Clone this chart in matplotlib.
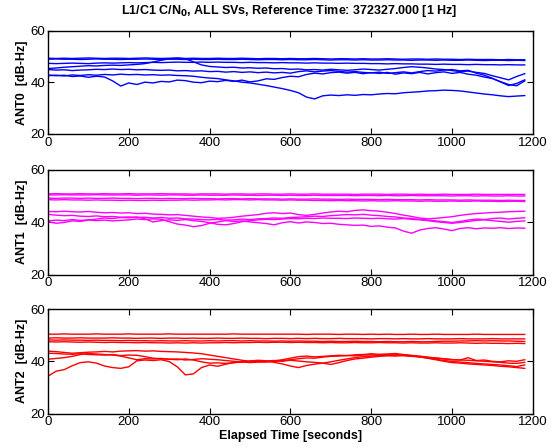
import numpy as np
import matplotlib
matplotlib.use("Agg")
import matplotlib.pyplot as plt

plt.rcParams['font.family'] = ['Liberation Sans', 'DejaVu Sans']

# sample times [s], one value every 20 s
t = np.arange(0, 1200, 20)

# ANT0 (blue) C/N0 per SV [dB-Hz]
ant0 = [
    [49.4,49.3,49.4,49.3,49.4,49.5,49.4,49.3,49.4,49.4, 49.3,49.4,49.5,49.4,49.3,49.4,49.4,49.3,49.4,49.3,
     49.3,49.4,49.3,49.3,49.4,49.3,49.2,49.3,49.3,49.2, 49.3,49.2,49.2,49.3,49.2,49.1,49.2,49.2,49.1,49.2,
     49.1,49.1,49.2,49.1,49.0,49.1,49.1,49.0,49.1,49.0, 49.0,48.9,49.0,48.9,48.9,48.9,48.8,48.9,48.8,48.8],
    [49.0,49.1,49.0,49.0,48.9,49.0,49.1,49.0,49.0,48.9, 49.0,49.0,49.1,49.0,48.9,49.0,49.0,48.9,49.0,48.9,
     48.9,49.0,48.9,48.9,49.0,48.9,48.8,48.9,48.9,48.8, 48.9,48.8,48.8,48.9,48.8,48.7,48.8,48.8,48.7,48.8,
     48.7,48.7,48.8,48.7,48.7,48.6,48.7,48.7,48.6,48.7, 48.6,48.6,48.7,48.6,48.5,48.6,48.6,48.5,48.6,48.5],
    [47.4,47.3,47.4,47.5,47.4,47.3,47.5,47.6,47.5,47.6, 47.7,47.6,47.7,47.8,47.7,47.8,47.9,47.8,47.8,47.9,
     47.8,47.9,47.8,47.8,47.7,47.8,47.7,47.7,47.6,47.7, 47.6,47.6,47.5,47.6,47.5,47.5,47.4,47.5,47.4,47.4,
     47.3,47.3,47.2,47.3,47.2,47.2,47.1,47.1,47.0,47.1, 47.0,47.0,46.9,47.0,46.9,46.9,46.8,46.9,46.8,46.8],
    [45.4,45.6,45.9,46.1,46.3,46.5,46.4,46.6,46.7,46.6, 46.8,47.0,47.3,47.9,48.6,49.2,49.5,49.2,48.0,46.8,
     46.2,46.0,45.8,45.9,45.6,45.7,45.5,45.6,45.3,45.4, 45.1,45.2,44.9,45.0,44.8,45.1,44.9,44.7,44.9,45.2,
     45.0,44.8,45.1,45.4,45.8,46.1,45.9,45.6,45.2,45.0, 44.6,44.2,44.4,43.9,43.5,42.6,41.8,41.0,42.3,43.4],
    [45.0,44.8,44.9,44.6,44.8,44.9,45.1,45.0,45.2,45.0, 45.1,44.9,45.0,44.8,44.7,44.8,44.5,44.6,44.4,44.5,
     44.2,44.3,44.0,44.2,43.9,44.1,43.8,44.0,43.7,43.9, 43.6,44.2,44.5,44.1,44.4,44.6,44.3,44.0,44.2,43.9,
     43.7,44.0,43.5,43.8,44.1,43.7,44.2,44.6,44.4,44.8, 45.0,44.5,44.7,43.6,42.8,41.6,40.2,38.8,39.6,41.0],
    [42.9,42.6,42.8,42.3,42.5,42.0,42.4,42.1,40.6,38.6, 39.8,39.2,40.1,39.8,40.4,40.2,40.9,40.7,40.1,39.9,
     40.5,40.3,40.8,40.4,40.9,40.2,40.6,41.4,41.2,41.9, 42.4,42.2,43.1,43.6,43.3,43.8,44.0,43.6,43.9,43.4,
     43.8,43.5,43.9,43.2,43.7,43.4,43.9,43.3,43.8,44.1, 43.5,43.9,43.2,42.8,42.1,41.5,40.3,39.2,38.7,40.6],
    [42.6,42.8,42.5,42.9,42.7,43.0,42.8,43.1,42.9,43.2, 43.0,43.1,42.9,43.0,42.8,42.9,42.7,42.6,42.4,42.0,
     41.7,41.5,41.0,40.6,40.1,39.8,39.3,38.8,38.2,37.6, 36.9,36.0,34.3,33.6,34.8,35.1,34.9,35.2,35.0,35.3,
     35.2,35.5,35.7,35.6,36.0,36.2,36.4,36.7,36.8,37.0, 36.9,36.7,36.3,35.9,35.5,35.2,34.8,34.5,34.7,34.9],
]

# ANT1 (magenta)
ant1 = [
    [50.8,50.9,50.8,50.8,50.9,50.8,50.8,50.9,50.8,50.8, 50.9,50.8,50.8,50.8,50.9,50.8,50.8,50.8,50.7,50.8,
     50.8,50.8,50.7,50.8,50.8,50.7,50.8,50.8,50.7,50.7, 50.8,50.7,50.7,50.8,50.7,50.7,50.7,50.7,50.6,50.7,
     50.7,50.7,50.6,50.7,50.7,50.6,50.7,50.6,50.6,50.7, 50.6,50.6,50.6,50.7,50.6,50.6,50.6,50.6,50.6,50.6],
    [50.4,50.4,50.5,50.4,50.4,50.4,50.5,50.4,50.4,50.4, 50.4,50.3,50.4,50.4,50.3,50.4,50.4,50.3,50.3,50.4,
     50.3,50.3,50.3,50.4,50.3,50.3,50.2,50.3,50.3,50.2, 50.3,50.2,50.2,50.3,50.2,50.2,50.2,50.2,50.1,50.2,
     50.2,50.1,50.2,50.1,50.1,50.2,50.1,50.1,50.1,50.1, 50.0,50.1,50.1,50.0,50.1,50.0,50.0,50.1,50.0,50.0],
    [49.2,49.1,49.2,49.2,49.1,49.2,49.1,49.1,49.2,49.1, 49.1,49.0,49.1,49.1,49.0,49.1,49.0,49.0,49.1,49.0,
     49.0,48.9,49.0,49.0,48.9,49.0,48.9,48.9,48.9,48.8, 48.9,48.8,48.8,48.9,48.8,48.8,48.7,48.8,48.7,48.7,
     48.7,48.6,48.7,48.6,48.6,48.6,48.5,48.6,48.5,48.5, 48.5,48.4,48.5,48.4,48.4,48.4,48.3,48.4,48.3,48.3],
    [48.6,48.5,48.6,48.5,48.5,48.4,48.5,48.4,48.4,48.3, 48.4,48.3,48.3,48.4,48.3,48.4,48.4,48.5,48.4,48.5,
     48.5,48.6,48.5,48.6,48.6,48.5,48.6,48.5,48.5,48.4, 48.5,48.4,48.4,48.3,48.3,48.2,48.3,48.2,48.2,48.1,
     48.2,48.1,48.1,48.2,48.1,48.1,48.0,48.1,48.0,48.0, 48.1,48.0,48.0,48.1,48.0,48.0,47.9,48.0,48.0,47.9],
    [44.1,44.0,44.2,44.0,43.9,44.1,43.8,43.6,43.7,43.5, 43.6,43.3,43.4,43.1,43.0,42.8,42.9,42.6,42.3,42.0,
     41.8,41.5,41.6,41.9,42.3,42.6,42.9,43.4,43.6,43.3, 43.5,42.9,42.6,43.0,43.5,43.9,44.2,44.0,44.5,44.7,
     44.4,44.2,43.8,43.3,42.7,42.2,41.6,41.3,41.5,41.8, 42.1,42.6,43.0,43.3,43.5,43.7,43.8,44.0,44.1,44.2],
    [43.0,42.7,42.5,42.6,42.3,42.2,42.4,42.1,42.2,41.9, 42.0,41.8,41.9,41.6,41.8,41.5,41.6,41.3,41.2,41.0,
     40.9,41.1,40.8,40.9,41.2,41.0,41.3,41.4,41.6,41.5, 41.8,41.9,42.1,42.3,42.2,42.5,42.7,42.9,42.8,43.0,
     42.7,42.5,42.2,42.0,41.6,41.4,41.1,40.8,40.5,40.2, 39.9,40.3,40.8,41.2,41.0,41.4,41.6,41.2,41.5,41.7],
    [40.2,39.6,39.9,40.5,40.3,40.8,41.2,41.6,41.4,41.8, 41.7,42.0,41.3,40.1,40.6,40.9,40.7,41.0,40.6,40.3,
     39.8,39.2,39.0,39.5,40.2,40.6,40.9,41.1,41.0,41.2, 41.4,41.3,41.5,41.4,41.6,41.5,41.5,41.4,41.6,41.5,
     41.4,41.5,41.3,41.2,41.4,41.1,40.9,40.6,40.2,39.9, 39.6,39.9,40.3,40.7,40.9,40.6,40.3,40.0,40.3,40.5],
    [40.5,40.8,40.6,41.0,40.7,40.9,40.6,40.8,40.5,40.7, 40.9,41.2,41.0,41.3,41.1,40.2,39.3,38.9,38.3,38.7,
     39.6,40.1,40.6,40.3,40.5,40.1,39.8,39.5,39.0,39.8, 40.2,39.7,40.1,39.9,39.5,39.6,39.2,39.0,38.8,38.9,
     38.4,38.6,38.1,37.8,36.6,35.8,37.0,37.6,37.9,37.4, 36.8,37.6,37.9,37.5,37.8,37.7,37.9,37.6,37.8,37.7],
]

# ANT2 (red)
ant2 = [
    [50.4,50.4,50.5,50.4,50.4,50.4,50.5,50.4,50.4,50.4, 50.5,50.4,50.4,50.4,50.4,50.5,50.4,50.4,50.4,50.4,
     50.4,50.4,50.4,50.5,50.4,50.4,50.4,50.4,50.4,50.4, 50.4,50.4,50.3,50.4,50.4,50.4,50.3,50.4,50.4,50.3,
     50.4,50.3,50.4,50.3,50.3,50.4,50.3,50.3,50.4,50.3, 50.3,50.3,50.3,50.4,50.3,50.3,50.3,50.3,50.3,50.3],
    [48.9,49.0,48.9,48.9,49.0,48.9,48.9,48.9,49.0,48.9, 48.9,48.8,48.9,48.9,48.8,48.9,48.9,48.8,48.9,48.8,
     48.8,48.9,48.8,48.8,48.9,48.8,48.8,48.7,48.8,48.8, 48.7,48.8,48.7,48.8,48.7,48.7,48.8,48.7,48.7,48.7,
     48.6,48.7,48.7,48.6,48.7,48.6,48.6,48.7,48.6,48.6, 48.6,48.7,48.6,48.6,48.6,48.7,48.6,48.6,48.6,48.6],
    [48.2,48.1,48.2,48.1,48.1,48.0,48.1,48.0,48.0,47.9, 48.0,47.9,47.9,47.8,47.9,47.8,47.8,47.9,47.8,47.8,
     47.9,47.8,47.9,47.9,47.8,47.9,47.8,47.8,47.7,47.8, 47.7,47.8,47.7,47.7,47.6,47.7,47.6,47.6,47.7,47.6,
     47.6,47.5,47.6,47.5,47.5,47.6,47.5,47.5,47.6,47.7, 47.7,47.8,47.8,47.9,47.8,47.9,47.8,47.8,47.7,47.6],
    [47.5,47.4,47.5,47.4,47.3,47.4,47.3,47.2,47.3,47.2, 47.2,47.1,47.2,47.1,47.1,47.0,47.1,47.0,47.1,47.0,
     47.1,47.1,47.2,47.1,47.2,47.2,47.3,47.2,47.3,47.3, 47.2,47.3,47.2,47.2,47.1,47.2,47.1,47.1,47.2,47.1,
     47.1,47.2,47.1,47.1,47.0,47.1,47.0,47.0,47.1,47.0, 47.0,47.1,47.0,46.9,47.0,46.9,46.9,46.8,46.9,46.8],
    [43.9,43.7,43.4,43.1,43.3,43.5,43.6,43.8,43.6,43.9, 44.0,44.1,43.9,44.0,43.8,43.7,43.6,43.4,43.2,42.9,
     42.4,41.9,41.4,40.9,40.4,40.0,39.8,39.7,39.9,40.3, 40.6,41.0,41.3,41.2,41.6,41.9,42.0,42.2,42.1,42.4,
     42.5,42.3,42.6,42.4,42.2,42.0,41.8,41.5,41.3,41.0, 40.7,40.5,40.4,40.2,40.0,39.8,39.6,39.3,39.2,39.6],
    [43.1,43.0,42.8,42.7,42.9,42.6,42.5,42.4,42.6,42.2, 42.4,42.3,41.8,41.2,41.0,40.8,40.9,40.5,40.7,41.0,
     40.8,40.6,40.3,40.0,39.8,39.5,39.7,39.9,40.2,40.6, 41.2,41.8,42.0,41.7,41.9,42.1,42.3,42.2,42.5,42.6,
     42.9,42.7,42.8,43.0,42.6,42.3,42.0,41.6,41.2,40.9, 40.6,40.5,41.4,40.3,40.5,40.0,39.8,40.2,40.0,40.6],
    [40.8,41.1,41.4,41.9,42.6,43.0,42.8,42.6,42.4,42.0, 41.3,40.6,41.0,40.9,41.1,40.8,40.6,40.9,40.5,39.8,
     39.3,39.4,39.2,39.5,39.7,40.0,40.2,40.1,40.3,40.0, 40.4,40.1,39.8,39.6,39.3,38.8,39.5,40.3,40.9,41.2,
     41.6,41.9,42.1,42.0,42.2,41.9,41.7,41.2,40.8,40.3, 40.0,39.7,39.5,39.2,39.0,38.8,38.6,38.3,38.0,38.6],
    [34.3,36.2,36.8,38.3,39.5,39.8,39.3,38.2,37.6,37.3, 37.9,40.2,40.5,40.3,40.6,39.9,37.9,34.8,35.2,37.6,
     38.6,38.1,38.9,39.5,39.8,40.1,40.4,40.2,39.6,39.0, 38.2,37.6,38.4,38.9,39.3,39.8,40.4,40.9,41.4,41.8,
     42.0,42.2,42.3,42.5,42.4,42.1,41.7,41.2,40.6,40.0, 39.5,39.3,39.0,38.8,38.6,38.4,38.1,37.9,37.6,37.3],
]

ylabels = ["ANT0  [dB-Hz]", "ANT1  [dB-Hz]", "ANT2  [dB-Hz]"]
colors = ["#0000ff", "#ff00ff", "#ff0000"]
panels = [ant0, ant1, ant2]

fig = plt.figure(figsize=(5.56, 4.48), dpi=100)
boxes = [[0.0863, 0.701, 0.872, 0.230],
         [0.0863, 0.387, 0.872, 0.234],
         [0.0863, 0.077, 0.872, 0.233]]

for k in range(3):
    ax = fig.add_axes(boxes[k])
    for series in panels[k]:
        ax.plot(t, series, color=colors[k], lw=1.0)
    ax.set_xlim(0, 1200)
    ax.set_ylim(20, 60)
    ax.set_xticks(np.arange(0, 1201, 200))
    ax.set_yticks([20, 40, 60])
    ax.tick_params(direction='in', top=True, right=True, labelsize=9.5,
                   length=4, width=0.8, pad=2)
    for s in ax.spines.values():
        s.set_linewidth(1.0)
    ax.set_ylabel(ylabels[k], fontsize=9, fontweight='bold', labelpad=2)

ax.set_xlabel("Elapsed Time [seconds]", fontsize=9, fontweight='bold', labelpad=1)
fig.text(0.52, 0.976, "L1/C1 C/N$_\\mathbf{0}$, ALL SVs, Reference Time: 372327.000 [1 Hz]",
         ha='center', va='center', fontsize=9, fontweight='bold')

fig.savefig("out.png", dpi=100)
